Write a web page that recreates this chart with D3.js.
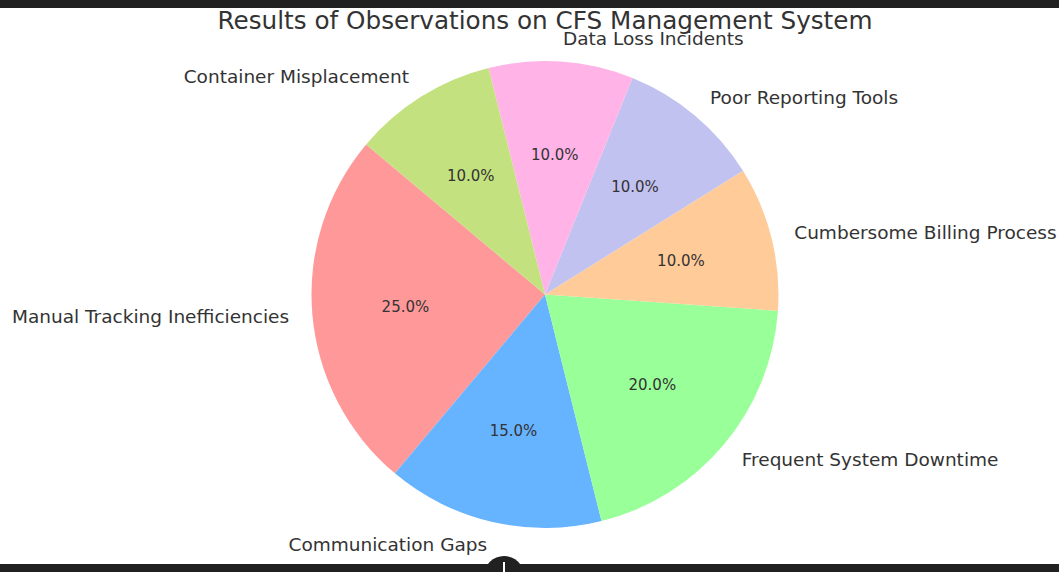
<!DOCTYPE html>
<html>
<head>
<meta charset="utf-8">
<script src="https://cdn.jsdelivr.net/npm/d3@7"></script>
<style>
html,body{margin:0;padding:0;background:#fff;overflow:hidden;}
svg{display:block;}
text{font-family:"DejaVu Sans",sans-serif;}
</style>
</head>
<body>
<svg id="chart" width="1059" height="572"></svg>
<script>
const categories = ["Manual Tracking Inefficiencies","Communication Gaps","Frequent System Downtime","Cumbersome Billing Process","Poor Reporting Tools","Data Loss Incidents","Container Misplacement"];
const values = [25, 15, 20, 10, 10, 10, 10];
const colors = ["#ff9999","#66b3ff","#99ff99","#ffcc99","#c2c2f0","#ffb3e6","#c4e17f"];
const title = "Results of Observations on CFS Management System";

const W = 1059, H = 572;
const cx = 545, cy = 294.5, R = 233.5;
const svg = d3.select("#chart");

// matplotlib style: startangle 140 deg, counterclockwise
const deg = Math.PI/180;
const pie = d3.pie().sort(null).value(d => d)
  .startAngle((90-140)*deg).endAngle((90-140-360)*deg);
const arcs = pie(values);
const total = d3.sum(values);

const arc = d3.arc().innerRadius(0).outerRadius(R);
const labelArc = d3.arc().innerRadius(R*1.1).outerRadius(R*1.1);
const pctArc = d3.arc().innerRadius(R*0.6).outerRadius(R*0.6);
const color = d3.scaleOrdinal().domain(categories).range(colors);

const g = svg.append("g").attr("transform", `translate(${cx},${cy})`);
g.selectAll("path.slice").data(arcs).enter().append("path")
  .attr("class","slice")
  .attr("d", arc)
  .attr("fill", (d,i) => color(categories[i]));

g.selectAll("text.lbl").data(arcs).enter().append("text")
  .attr("class","lbl")
  .attr("x", d => labelArc.centroid(d)[0])
  .attr("y", d => labelArc.centroid(d)[1])
  .attr("text-anchor", d => labelArc.centroid(d)[0] > 0 ? "start" : "end")
  .attr("dominant-baseline","central")
  .attr("font-size", 18.5)
  .attr("fill", "#333333")
  .text((d,i) => categories[i]);

g.selectAll("text.pct").data(arcs).enter().append("text")
  .attr("class","pct")
  .attr("x", d => pctArc.centroid(d)[0])
  .attr("y", d => pctArc.centroid(d)[1])
  .attr("text-anchor","middle")
  .attr("dominant-baseline","central")
  .attr("font-size", 15)
  .attr("fill", "#333333")
  .text(d => (d.value/total*100).toFixed(1) + "%");

svg.append("text")
  .attr("x", 545).attr("y", 29)
  .attr("text-anchor","middle")
  .attr("font-size", 24)
  .attr("fill", "#333333")
  .attr("textLength", 655)
  .attr("lengthAdjust","spacingAndGlyphs")
  .text(title);

// browser chrome bars
svg.append("rect").attr("x",0).attr("y",0).attr("width",W).attr("height",8).attr("fill","#212121");
svg.append("rect").attr("x",0).attr("y",564).attr("width",W).attr("height",8).attr("fill","#212121");
svg.append("circle").attr("cx",504).attr("cy",576).attr("r",20).attr("fill","#212121");
svg.append("line").attr("x1",504).attr("x2",504).attr("y1",562).attr("y2",572).attr("stroke","#fff").attr("stroke-width",2);
</script>
</body>
</html>
